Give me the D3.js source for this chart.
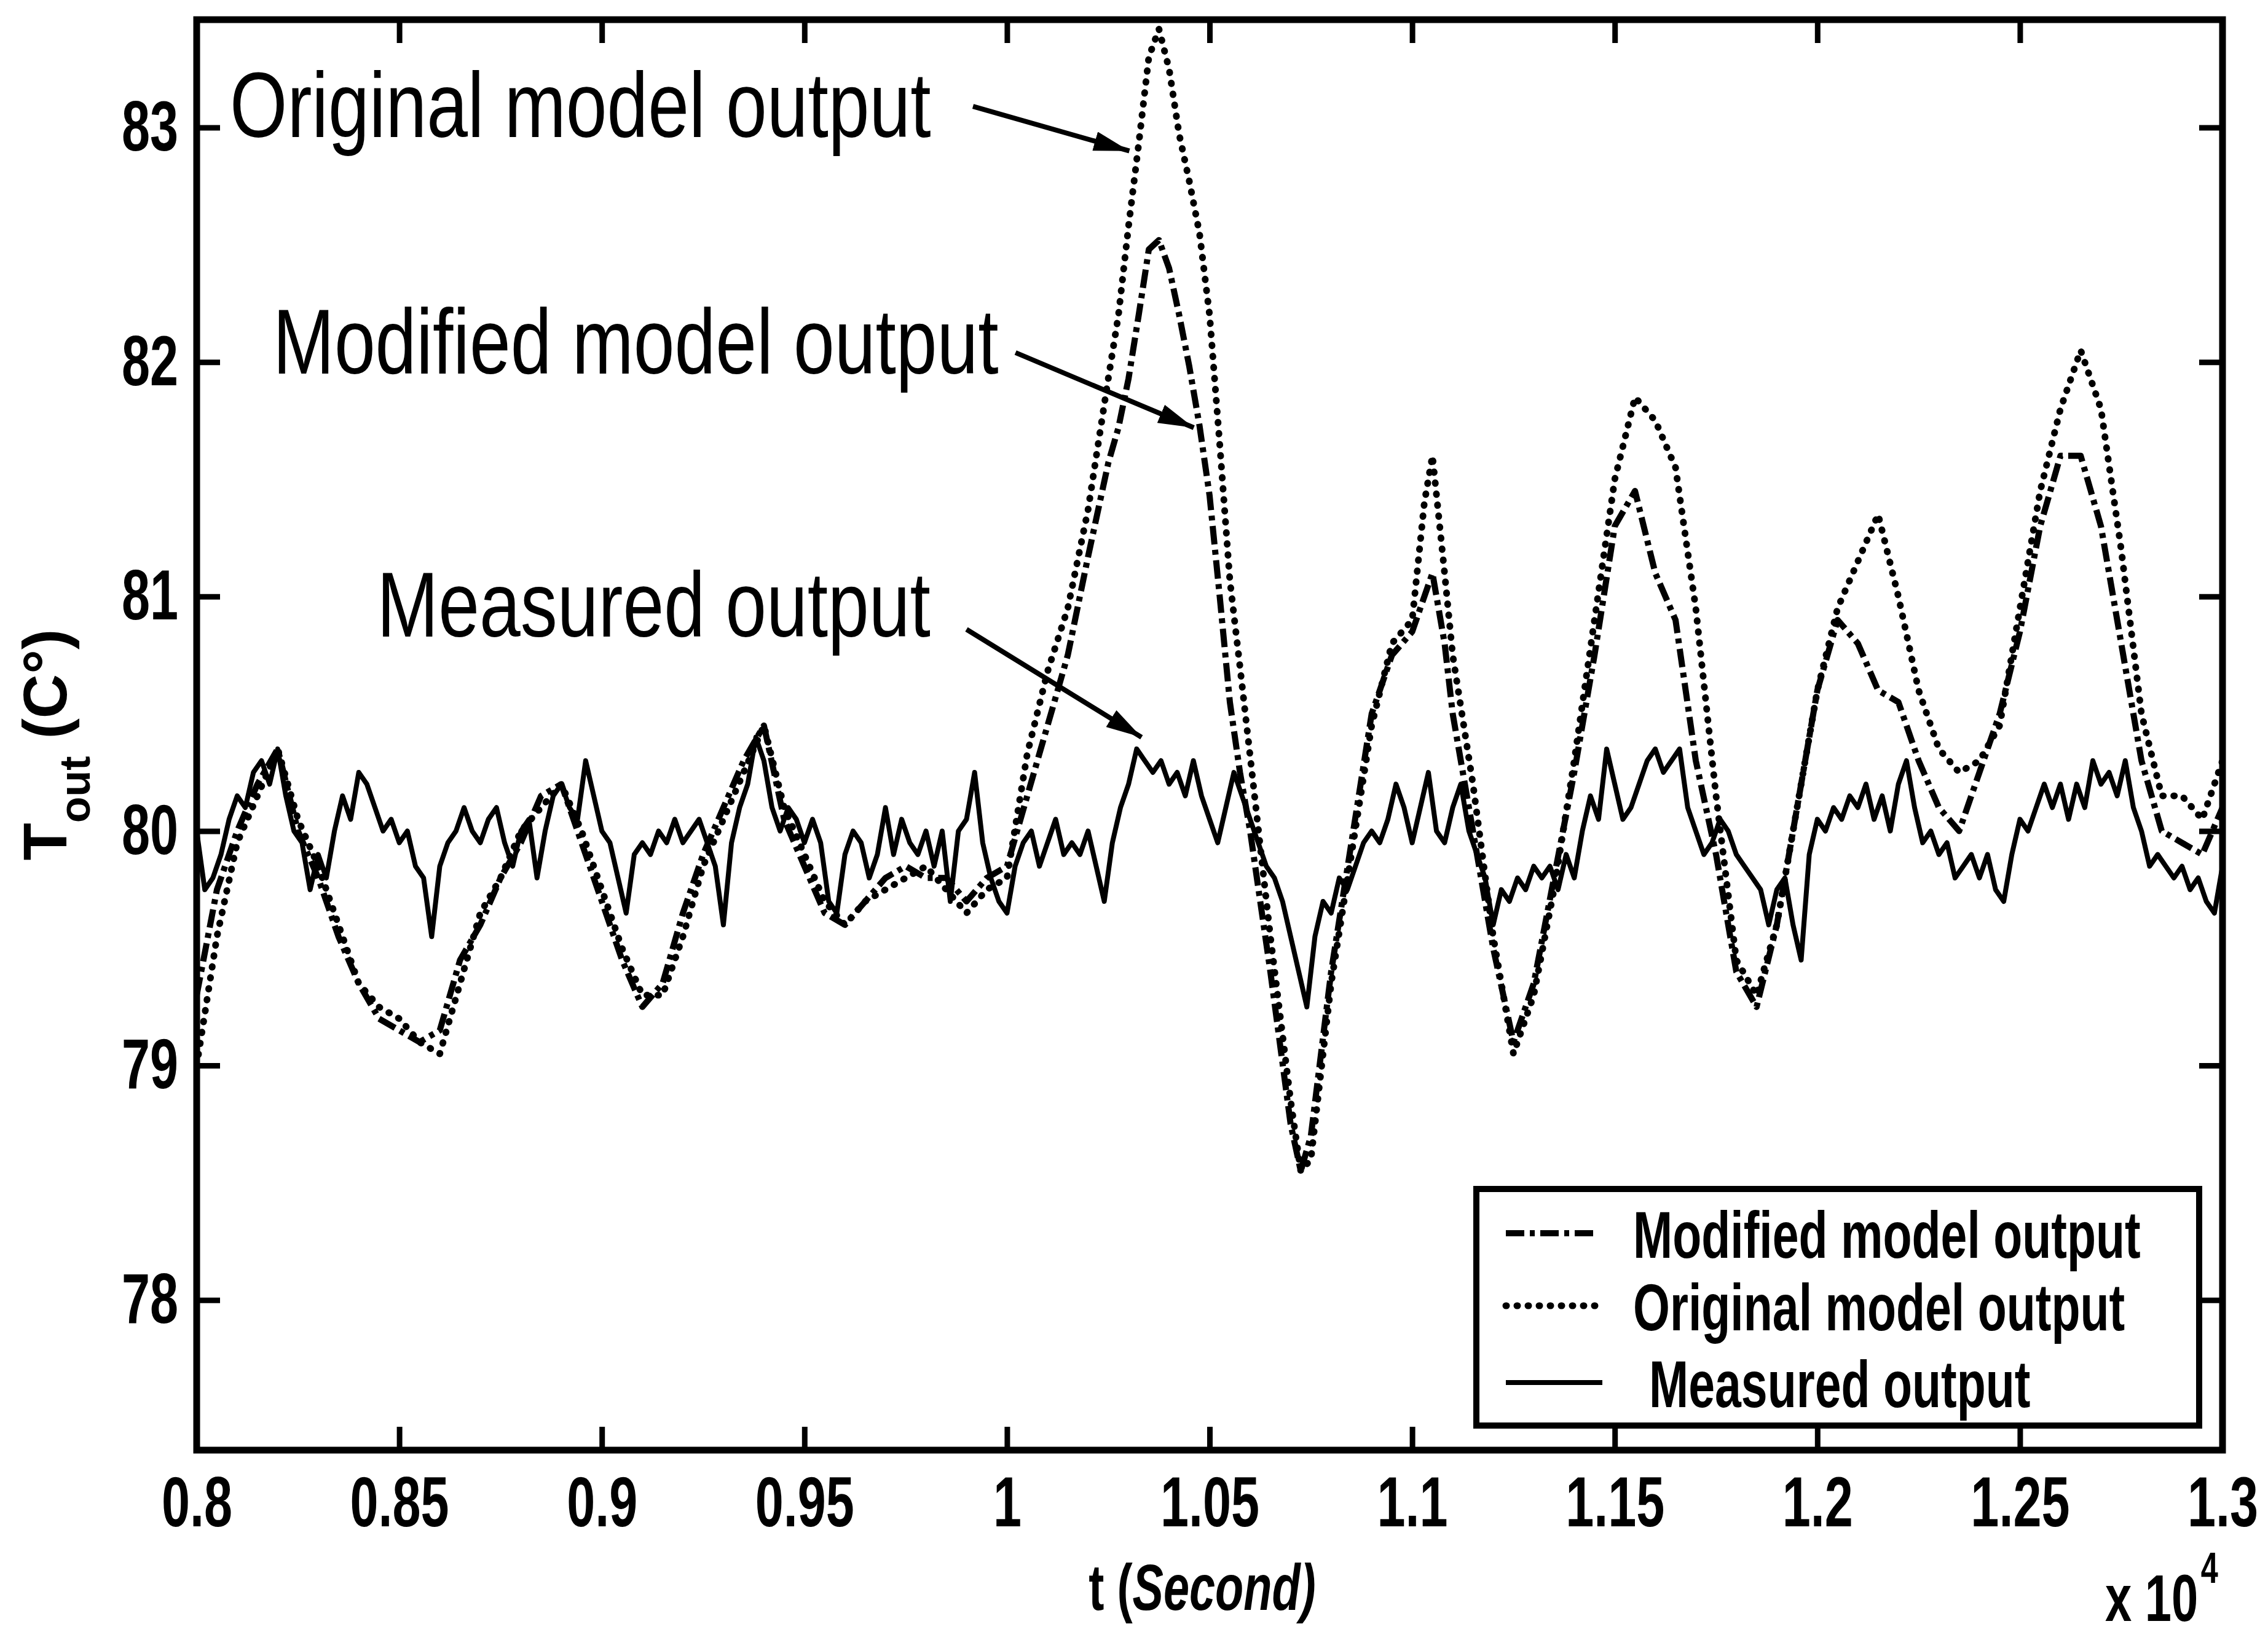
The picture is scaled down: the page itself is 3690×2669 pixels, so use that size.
<!DOCTYPE html>
<html>
<head>
<meta charset="utf-8">
<script src="https://cdn.jsdelivr.net/npm/d3@7"></script>
<style>
  html, body { margin: 0; padding: 0; background: #fff; }
  svg { display: block; font-family: 'Liberation Sans', Arial, Helvetica, sans-serif; }
</style>
</head>
<body>
<script>
const width = 3690
const height = 2669
const margin = { left: 320, right: 74, top: 32, bottom: 309 }

// time axis is in seconds, labelled in units of 10^4
const xDomain = [8000, 13000]
const yDomain = [77.36, 83.46]
const xTicks = [8000, 8500, 9000, 9500, 10000, 10500, 11000, 11500, 12000, 12500, 13000]
const xTickLabels = ['0.8', '0.85', '0.9', '0.95', '1', '1.05', '1.1', '1.15', '1.2', '1.25', '1.3']
const yTicks = [78, 79, 80, 81, 82, 83]

// measured output, one reading every 20 s starting at 8000 s
const measuredStart = 8000
const measuredStep = 20
const measured = [
  80.0, 79.75, 79.8, 79.9, 80.05, 80.15, 80.1, 80.25, 80.3, 80.2,
  80.35, 80.15, 80.0, 79.95, 79.75, 79.9, 79.8, 80.0, 80.15, 80.05,
  80.25, 80.2, 80.1, 80.0, 80.05, 79.95, 80.0, 79.85, 79.8, 79.55,
  79.85, 79.95, 80.0, 80.1, 80.0, 79.95, 80.05, 80.1, 79.95, 79.85,
  80.0, 80.05, 79.8, 80.0, 80.15, 80.2, 80.1, 80.05, 80.3, 80.15,
  80.0, 79.95, 79.8, 79.65, 79.9, 79.95, 79.9, 80.0, 79.95, 80.05,
  79.95, 80.0, 80.05, 79.95, 79.85, 79.6, 79.95, 80.1, 80.2, 80.4,
  80.3, 80.1, 80.0, 80.1, 80.05, 79.95, 80.05, 79.95, 79.7, 79.65,
  79.9, 80.0, 79.95, 79.8, 79.9, 80.1, 79.9, 80.05, 79.95, 79.9,
  80.0, 79.85, 80.0, 79.7, 80.0, 80.05, 80.25, 79.95, 79.8, 79.7,
  79.65, 79.85, 79.95, 80.0, 79.85, 79.95, 80.05, 79.9, 79.95, 79.9,
  80.0, 79.85, 79.7, 79.95, 80.1, 80.2, 80.35, 80.3, 80.25, 80.3,
  80.2, 80.25, 80.15, 80.3, 80.15, 80.05, 79.95, 80.1, 80.25, 80.15,
  80.05, 79.95, 79.85, 79.8, 79.7, 79.55, 79.4, 79.25, 79.55, 79.7,
  79.65, 79.8, 79.75, 79.85, 79.95, 80.0, 79.95, 80.05, 80.2, 80.1,
  79.95, 80.1, 80.25, 80.0, 79.95, 80.1, 80.2, 80.0, 79.9, 79.8,
  79.6, 79.75, 79.7, 79.8, 79.75, 79.85, 79.8, 79.85, 79.75, 79.9,
  79.8, 80.0, 80.15, 80.05, 80.35, 80.2, 80.05, 80.1, 80.2, 80.3,
  80.35, 80.25, 80.3, 80.35, 80.1, 80.0, 79.9, 79.95, 80.05, 80.0,
  79.9, 79.85, 79.8, 79.75, 79.6, 79.75, 79.8, 79.6, 79.45, 79.9,
  80.05, 80.0, 80.1, 80.05, 80.15, 80.1, 80.2, 80.05, 80.15, 80.0,
  80.2, 80.3, 80.1, 79.95, 80.0, 79.9, 79.95, 79.8, 79.85, 79.9,
  79.8, 79.9, 79.75, 79.7, 79.9, 80.05, 80.0, 80.1, 80.2, 80.1,
  80.2, 80.05, 80.2, 80.1, 80.3, 80.2, 80.25, 80.15, 80.3, 80.1,
  80.0, 79.85, 79.9, 79.85, 79.8, 79.85, 79.75, 79.8, 79.7, 79.65,
  79.85
]

// both model outputs share these sample times (denser around the big peak)
const modelTime = [
  8000, 8050, 8100, 8150, 8200, 8250, 8300, 8350, 8400, 8450,
  8500, 8550, 8600, 8650, 8700, 8750, 8800, 8850, 8900, 8950,
  9000, 9050, 9100, 9150, 9200, 9250, 9300, 9350, 9400, 9450,
  9500, 9550, 9600, 9650, 9700, 9750, 9800, 9850, 9900, 9950,
  10000, 10050, 10100, 10150, 10200, 10250,
  10275, 10300, 10325, 10350, 10375, 10400, 10425, 10450, 10475, 10500, 10525, 10550, 10575, 10600,
  10650, 10700, 10725, 10750, 10800, 10850, 10900, 10950, 11000, 11030, 11050, 11080, 11100,
  11150, 11200, 11250, 11300, 11350, 11400, 11450, 11500, 11550, 11600, 11650, 11700, 11750, 11800,
  11850, 11900, 11950, 12000, 12050, 12100, 12150, 12200, 12250, 12300, 12350, 12400, 12450, 12500,
  12550, 12600, 12650, 12700, 12750, 12800, 12850, 12900, 12950, 13000
]

const originalModel = [
  79.0, 79.55, 79.95, 80.15, 80.35, 80.05, 79.85, 79.6, 79.35, 79.25,
  79.2, 79.1, 79.05, 79.35, 79.65, 79.8, 80.0, 80.1, 80.2, 80.0,
  79.75, 79.5, 79.3, 79.3, 79.55, 79.85, 80.05, 80.25, 80.45, 80.1,
  79.9, 79.7, 79.6, 79.7, 79.75, 79.8, 79.85, 79.75, 79.65, 79.75,
  79.8, 80.33, 80.68, 80.95, 81.37, 81.93,
  82.2, 82.58, 82.93, 83.3, 83.42, 83.25, 82.97, 82.77, 82.55, 82.2, 81.65, 81.07, 80.7, 80.32,
  79.55, 78.85, 78.55, 78.6, 79.35, 79.9, 80.45, 80.8, 80.9, 81.4, 81.6, 81.1, 80.75,
  80.2, 79.55, 79.05, 79.3, 79.75, 80.3, 80.9, 81.5, 81.85, 81.75, 81.55, 80.95, 80.15, 79.45,
  79.3, 79.6, 80.1, 80.6, 80.95, 81.15, 81.35, 81.0, 80.6, 80.35, 80.25, 80.3, 80.45, 80.95,
  81.45, 81.8, 82.05, 81.8, 81.2, 80.5, 80.15, 80.15, 80.05, 80.3
]

const modifiedModel = [
  79.3, 79.75, 80.0, 80.2, 80.35, 80.0, 79.8, 79.55, 79.35, 79.2,
  79.15, 79.1, 79.15, 79.45, 79.6, 79.8, 79.95, 80.15, 80.2, 79.95,
  79.7, 79.45, 79.25, 79.35, 79.65, 79.9, 80.1, 80.3, 80.45, 80.05,
  79.85, 79.65, 79.6, 79.7, 79.8, 79.85, 79.8, 79.8, 79.7, 79.8,
  79.85, 80.15, 80.45, 80.75, 81.17, 81.57,
  81.72, 81.93, 82.2, 82.48, 82.52, 82.4, 82.2, 81.98, 81.73, 81.43, 81.0, 80.55, 80.25, 80.0,
  79.4, 78.75, 78.55, 78.7, 79.4, 79.95, 80.5, 80.75, 80.85, 81.0, 81.1, 80.8, 80.5,
  80.0, 79.5, 79.1, 79.35, 79.8, 80.25, 80.75, 81.3, 81.45, 81.1, 80.9, 80.3, 79.9, 79.4,
  79.25, 79.6, 80.1, 80.6, 80.9, 80.8, 80.6, 80.55, 80.3, 80.1, 80.0, 80.25, 80.5, 80.85,
  81.3, 81.6, 81.6, 81.3, 80.8, 80.3, 80.0, 79.95, 79.9, 80.1
]

const legendLabels = ['Modified model output', 'Original model output', 'Measured output']

// call-outs, placed in data units (t, T)
const notes = [
  { text: 'Original model output', at: [8082, 82.96], from: [9916, 83.09], to: [10302, 82.9] },
  { text: 'Modified model output', at: [8188, 81.95], from: [10021, 82.04], to: [10461, 81.72] },
  { text: 'Measured output', at: [8445, 80.83], from: [9900, 80.86], to: [10332, 80.4] }
]

const fontFamily = "'Liberation Sans', Arial, Helvetica, sans-serif"

// the scanned lettering is narrow: squash each text horizontally about its own anchor
function squeeze (sel, k) {
  sel.each(function () {
    const t = d3.select(this)
    const x0 = +t.attr('x') || 0
    t.attr('x', x0 / k).attr('transform', `scale(${k},1)`)
  })
}

const svg = d3.select('body').append('svg')
  .attr('width', width)
  .attr('height', height)

svg.append('rect')
  .attr('width', width)
  .attr('height', height)
  .attr('fill', '#fff')

const x = d3.scaleLinear().domain(xDomain).range([margin.left, width - margin.right])
const y = d3.scaleLinear().domain(yDomain).range([height - margin.bottom, margin.top])

const defs = svg.append('defs')
defs.append('clipPath')
  .attr('id', 'plot-area')
  .append('rect')
    .attr('x', x.range()[0])
    .attr('y', y.range()[1])
    .attr('width', x.range()[1] - x.range()[0])
    .attr('height', y.range()[0] - y.range()[1])

defs.append('marker')
  .attr('id', 'head')
  .attr('viewBox', '0 0 10 10')
  .attr('refX', 10)
  .attr('refY', 5)
  .attr('markerUnits', 'userSpaceOnUse')
  .attr('markerWidth', 58)
  .attr('markerHeight', 32)
  .attr('preserveAspectRatio', 'none')
  .attr('orient', 'auto')
  .append('path')
    .attr('d', 'M0,0L10,5L0,10Z')
    .attr('fill', '#000')

// ---- axes: MATLAB box with inward ticks on all four sides
const tickLen = 38

function styleAxis (g) {
  g.attr('font-family', fontFamily)
    .attr('font-size', 115)
    .attr('font-weight', 'bold')
  g.select('.domain').remove()
  g.selectAll('.tick line').attr('stroke', '#000').attr('stroke-width', 9)
  g.selectAll('.tick text').attr('fill', '#000')
}

const xAxis = svg.append('g')
  .attr('transform', `translate(0,${y.range()[0]})`)
  .call(d3.axisBottom(x).tickValues(xTicks).tickFormat((d, i) => xTickLabels[i]).tickSize(-tickLen).tickPadding(42))
  .call(styleAxis)
xAxis.selectAll('.tick text').call(squeeze, 0.72)

const yAxis = svg.append('g')
  .attr('transform', `translate(${x.range()[0]},0)`)
  .call(d3.axisLeft(y).tickValues(yTicks).tickFormat(d3.format('d')).tickSize(-tickLen).tickPadding(30))
  .call(styleAxis)
yAxis.selectAll('.tick text').call(squeeze, 0.72)

svg.append('g')
  .attr('transform', `translate(0,${y.range()[1]})`)
  .call(d3.axisTop(x).tickValues(xTicks).tickFormat('').tickSize(-tickLen))
  .call(styleAxis)

svg.append('g')
  .attr('transform', `translate(${x.range()[1]},0)`)
  .call(d3.axisRight(y).tickValues(yTicks).tickFormat('').tickSize(-tickLen))
  .call(styleAxis)

svg.append('rect')
  .attr('x', x.range()[0])
  .attr('y', y.range()[1])
  .attr('width', x.range()[1] - x.range()[0])
  .attr('height', y.range()[0] - y.range()[1])
  .attr('fill', 'none')
  .attr('stroke', '#000')
  .attr('stroke-width', 11)

// ---- series
const line = d3.line().x(d => x(d[0])).y(d => y(d[1]))

const series = [
  { name: 'measured', pts: measured.map((v, i) => [measuredStart + i * measuredStep, v]), width: 8, dash: null, cap: 'butt' },
  { name: 'modified', pts: modelTime.map((t, i) => [t, modifiedModel[i]]), width: 10, dash: '30 9 8 9', cap: 'butt' },
  { name: 'original', pts: modelTime.map((t, i) => [t, originalModel[i]]), width: 11, dash: '1 17', cap: 'round' }
]

const plot = svg.append('g').attr('clip-path', 'url(#plot-area)')
plot.selectAll('path.series')
  .data(series)
  .enter()
  .append('path')
    .classed('series', true)
    .attr('d', d => line(d.pts))
    .attr('fill', 'none')
    .attr('stroke', '#000')
    .attr('stroke-width', d => d.width)
    .attr('stroke-dasharray', d => d.dash)
    .attr('stroke-linecap', d => d.cap)
    .attr('stroke-linejoin', 'round')

// ---- call-outs with arrows
const callouts = svg.append('g').attr('font-family', fontFamily)

callouts.selectAll('text')
  .data(notes)
  .enter()
  .append('text')
    .attr('x', d => x(d.at[0]))
    .attr('y', d => y(d.at[1]))
    .attr('font-size', 150)
    .attr('fill', '#000')
    .text(d => d.text)
    .call(squeeze, 0.8)

callouts.selectAll('line')
  .data(notes)
  .enter()
  .append('line')
    .attr('x1', d => x(d.from[0]))
    .attr('y1', d => y(d.from[1]))
    .attr('x2', d => x(d.to[0]))
    .attr('y2', d => y(d.to[1]))
    .attr('stroke', '#000')
    .attr('stroke-width', 8)
    .attr('marker-end', 'url(#head)')

// ---- legend (lower right)
const legend = svg.append('g')
  .attr('transform', 'translate(2402,1935)')
  .attr('font-family', fontFamily)

legend.append('rect')
  .attr('width', 1176)
  .attr('height', 385)
  .attr('fill', '#fff')
  .attr('stroke', '#000')
  .attr('stroke-width', 10)

const legendRows = [series[1], series[2], series[0]]
const rowY = [72, 190, 315]

legendRows.forEach((s, i) => {
  legend.append('line')
    .attr('x1', 48)
    .attr('x2', s.name === 'measured' ? 205 : 197)
    .attr('y1', rowY[i])
    .attr('y2', rowY[i])
    .attr('stroke', '#000')
    .attr('stroke-width', s.width)
    .attr('stroke-dasharray', s.dash)
    .attr('stroke-linecap', s.cap)
  legend.append('text')
    .attr('x', s.name === 'measured' ? 281 : 255)
    .attr('y', rowY[i] + 40)
    .attr('font-size', 107)
    .attr('font-weight', 'bold')
    .attr('fill', '#000')
    .text(legendLabels[i])
    .call(squeeze, 0.72)
})

// ---- axis titles
const xTitle = svg.append('text')
  .attr('transform', `translate(${(x.range()[0] + x.range()[1]) / 2 - 12},2620) scale(0.72,1)`)
  .attr('text-anchor', 'middle')
  .attr('font-family', fontFamily)
  .attr('font-size', 105)
  .attr('font-weight', 'bold')
  .attr('fill', '#000')
xTitle.append('tspan').text('t (')
xTitle.append('tspan').attr('font-style', 'italic').text('Second)')

const yTitle = svg.append('text')
  .attr('transform', 'translate(108,1212) rotate(-90)')
  .attr('text-anchor', 'middle')
  .attr('font-family', fontFamily)
  .attr('font-size', 100)
  .attr('font-weight', 'bold')
  .attr('fill', '#000')
yTitle.append('tspan').text('T')
yTitle.append('tspan').attr('font-size', 70).attr('dy', 38).text('out')
yTitle.append('tspan').attr('dy', -38).text(' (C°)')

// exponent of the time axis
const expo = svg.append('text')
  .attr('x', 3425)
  .attr('y', 2638)
  .attr('font-family', fontFamily)
  .attr('font-size', 108)
  .attr('font-weight', 'bold')
  .attr('fill', '#000')
expo.append('tspan').text('x 10')
expo.append('tspan').attr('font-size', 70).attr('dx', 6).attr('dy', -62).text('4')
expo.call(squeeze, 0.72)
</script>
</body>
</html>
